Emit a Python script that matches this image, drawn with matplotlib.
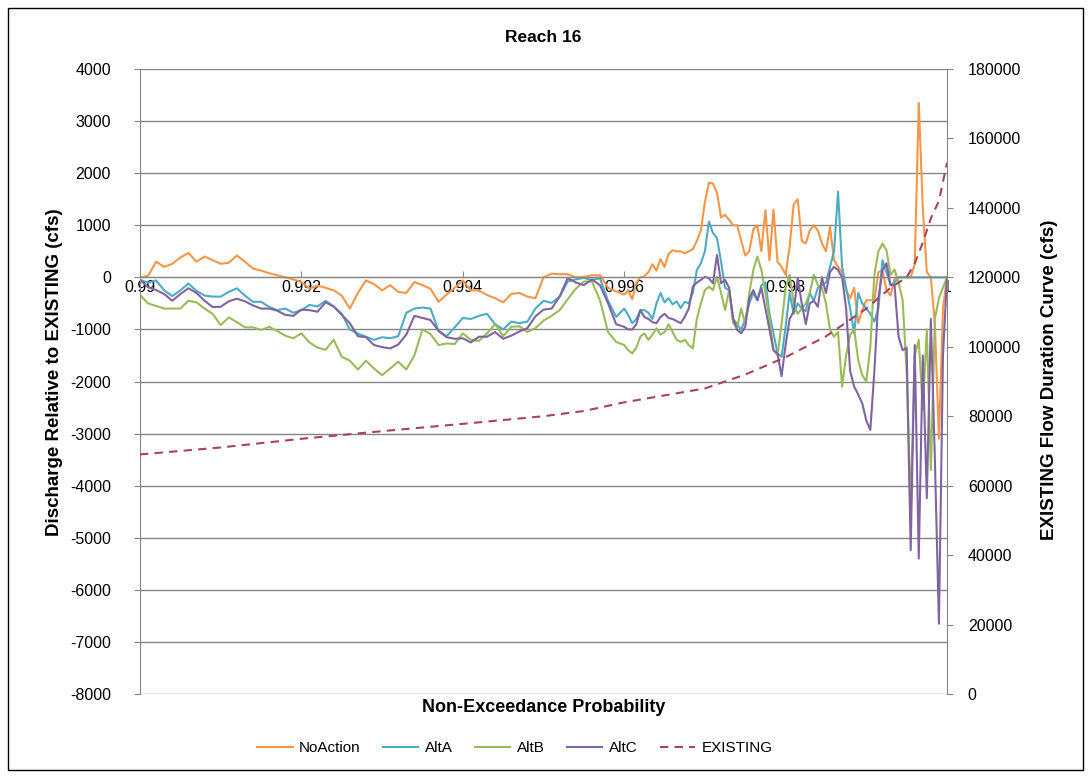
import matplotlib.pyplot as plt
import numpy as np
from matplotlib.patches import Rectangle

plt.rcParams['font.family'] = ['Liberation Sans', 'DejaVu Sans']
plt.rcParams['axes.unicode_minus'] = False

# probability grid: coarse up to 0.996, finer in the tail
prob_a = np.round(np.arange(0.9900, 0.99595, 0.0001), 5)
prob_b = np.round(np.arange(0.99600, 1.000001, 0.00005), 5)
prob = np.concatenate([prob_a, prob_b])

no_action = [
    0, 30, 300, 200, 260, 380, 470, 300, 400, 330, 260, 280, 420, 300, 170, 130, 80, 40, 0, -40,
    -90, -220, -160, -200, -250, -350, -600, -300, -60, -130, -250, -150, -280, -300, -90, -150, -220, -470, -330, -200,
    -60, -250, -250, -340, -400, -480, -320, -300, -370, -400, 0, 70, 60, 60, 0, 10, 40, 40, -200, -270,
    # tail
    -330, -260, -420, -100, 0, 20, 100, 250, 130, 350, 200, 450, 520, 500, 500, 460, 500, 540, 700, 900,
    1450, 1820, 1800, 1620, 1150, 1200, 1100, 1000, 1000, 700, 420, 500, 920, 1000, 500, 1290, 330, 1300, 300, 200,
    50, 590, 1400, 1500, 700, 650, 900, 1000, 900, 650, 500, 970, 330, 200, 100, -250, -400, -200, -880, -630,
    -440, -440, -440, 100, 140, -245, -350, -30, 0, 0, 0, 0, 250, 3350, 1330, 100, 0, -900, -3100, -600, 0,
]

alt_a = [
    -50, -100, -60, -250, -360, -250, -120, -260, -350, -370, -370, -280, -210, -350, -470, -470, -565, -630, -600, -680,
    -630, -530, -560, -450, -560, -700, -1000, -1080, -1140, -1200, -1150, -1170, -1130, -680, -600, -580, -600, -1030, -1130, -960,
    -780, -800, -740, -700, -900, -1000, -850, -880, -850, -600, -450, -490, -370, -80, -40, -10, -50, -20, -450, -760,
    # tail
    -600, -725, -880, -800, -630, -630, -680, -800, -500, -300, -480, -400, -520, -460, -590, -470, -500, -300, 140, 270,
    500, 1070, 850, 750, 300, -200, -250, -800, -900, -1010, -800, -500, -300, -440, -150, -100, -700, -1075, -1460, -1525,
    -950, -300, -700, -500, -600, -650, -300, -450, -200, -150, -100, 200, 500, 1645, 200, -200, -600, -1075, -300, -500,
    -600, -700, -850, -600, 330, 100, -150, -100, 0, 0, 0, 0, 0, 0, 0, 0, 0, 0, 0, 0, 0,
]

alt_b = [
    -340, -500, -550, -600, -600, -600, -450, -480, -600, -700, -915, -770, -860, -960, -960, -1010, -950, -1030, -1120, -1170,
    -1075, -1250, -1350, -1390, -1200, -1525, -1600, -1770, -1600, -1750, -1880, -1750, -1620, -1770, -1500, -1000, -1090, -1300, -1270, -1280,
    -1075, -1200, -1220, -1075, -900, -1130, -950, -940, -1050, -975, -830, -740, -630, -420, -220, -80, -80, -440, -1050, -1240,
    # tail
    -1300, -1400, -1460, -1350, -1140, -1075, -1200, -1100, -980, -1100, -1050, -900, -1050, -1200, -1240, -1200, -1300, -1365, -800, -500,
    -245, -180, -245, 10, -300, -630, -245, -880, -950, -600, -900, -300, 140, 400, 140, -300, -800, -1400, -1500, -900,
    -200, 50, -500, -700, -600, -500, -300, 50, -150, -200, -500, -1010, -1140, -1050, -2100, -1500, -1100, -1000, -1590, -1880,
    -2000, -1330, 50, 500, 650, 520, 50, 150, -100, -440, -1800, -4400, -1500, -1200, -2550, -1000, -3700, -800, -400, -200, 0,
]

alt_c = [
    -50, -190, -245, -320, -450, -320, -210, -300, -450, -570, -565, -460, -410, -460, -540, -600, -600, -640, -720, -740,
    -620, -630, -660, -480, -560, -720, -880, -1130, -1150, -1300, -1340, -1365, -1290, -1100, -740, -780, -820, -1030, -1150, -1180,
    -1170, -1250, -1140, -1140, -1050, -1180, -1120, -1040, -975, -750, -620, -600, -370, -15, -100, -150, -40, -150, -500, -900,
    # tail
    -950, -1000, -1000, -900, -630, -760, -800, -860, -880, -760, -700, -780, -800, -840, -880, -760, -600, -180, -100, -50,
    10, -20, -115, 430, -115, -50, -200, -800, -1010, -1075, -950, -400, -245, -440, -200, -600, -1000, -1400, -1460, -1900,
    -1300, -800, -650, -15, -500, -900, -500, -450, -565, 0, -300, 100, 200, 140, 0, -600, -1800, -2100, -2250, -2420,
    -2750, -2930, -1800, -400, 140, 270, -150, -150, -1140, -1400, -1350, -5240, -1300, -5400, -1500, -4240, -800, -3500, -6650, -1500, 0,
]

existing_prob = [0.990, 0.991, 0.992, 0.993, 0.994, 0.995, 0.9955, 0.996, 0.9965, 0.997, 0.9975,
                 0.998, 0.9985, 0.999, 0.9993, 0.9995, 0.9996, 0.9997, 0.9998, 0.9999, 1.0]
existing = [69000, 71000, 73500, 75700, 77800, 80000, 81500, 84000, 86000, 88000, 92000,
            97000, 103000, 111000, 117000, 120000, 124000, 130000, 137000, 142000, 153000]

colors = {'NoAction': '#F79646', 'AltA': '#4BACC6', 'AltB': '#9BBB59', 'AltC': '#8064A2'}
grid_color = '#868686'

fig = plt.figure(figsize=(10.91, 7.78), dpi=100)
ax = fig.add_axes([140 / 1091, 1 - 694 / 778, 807 / 1091, 625 / 778])
ax2 = ax.twinx()

lines = []
for name, vals in [('NoAction', no_action), ('AltA', alt_a), ('AltB', alt_b), ('AltC', alt_c)]:
    ln, = ax.plot(prob, vals, color=colors[name], lw=1.5, label=name)
    lines.append(ln)

ln_ex, = ax2.plot(existing_prob, existing, color='#A8435A', lw=1.5, ls=(0, (4, 3)), label='EXISTING')
lines.append(ln_ex)

ax.set_xlim(0.99, 1.0)
ax.set_ylim(-8000, 4000)
ax.set_yticks(np.arange(-8000, 4001, 1000))
ax.set_xticks([0.99, 0.992, 0.994, 0.996, 0.998, 1.0])
ax.set_xticklabels(['0.99', '0.992', '0.994', '0.996', '0.998', '1'])
ax.yaxis.grid(True, color=grid_color, lw=1)
ax.set_axisbelow(True)
ax.spines['bottom'].set_position(('data', 0))
ax.spines['bottom'].set_color(grid_color)
ax.spines['left'].set_color(grid_color)
ax.spines['top'].set_visible(False)
ax.spines['right'].set_visible(False)
ax.tick_params(axis='x', length=4, direction='in', color=grid_color, labelsize=11.5, pad=2)
ax.tick_params(axis='y', length=4, direction='out', color=grid_color, labelsize=11.5, pad=17)

ax2.set_ylim(0, 180000)
ax2.set_yticks(np.arange(0, 180001, 20000))
for s in ['top', 'bottom', 'left']:
    ax2.spines[s].set_visible(False)
ax2.spines['right'].set_color(grid_color)
ax2.tick_params(axis='y', length=4, direction='out', color=grid_color, labelsize=11.5, pad=11)

fig.text(0.498, 1 - 38 / 778, 'Reach 16', ha='center', va='center', fontsize=12.5, fontweight='bold')
fig.text(0.498, 1 - 708 / 778, 'Non-Exceedance Probability', ha='center', va='center', fontsize=13, fontweight='bold')
fig.text(55 / 1091, 1 - 372 / 778, 'Discharge Relative to EXISTING (cfs)', ha='center', va='center',
         rotation=90, fontsize=13.5, fontweight='bold')
fig.text(1050 / 1091, 1 - 380 / 778, 'EXISTING Flow Duration Curve (cfs)', ha='center', va='center',
         rotation=90, fontsize=13.5, fontweight='bold')

fig.legend(handles=lines, loc='center', bbox_to_anchor=(515 / 1091, 1 - 748 / 778), ncol=5, frameon=False,
           fontsize=11, handlelength=2.3, handletextpad=0.4, columnspacing=1.5)

fig.patches.append(Rectangle((8 / 1091, 8 / 778), 1075 / 1091, 762 / 778, transform=fig.transFigure,
                             fill=False, ec='black', lw=1))

fig.savefig('out.png', dpi=100)
